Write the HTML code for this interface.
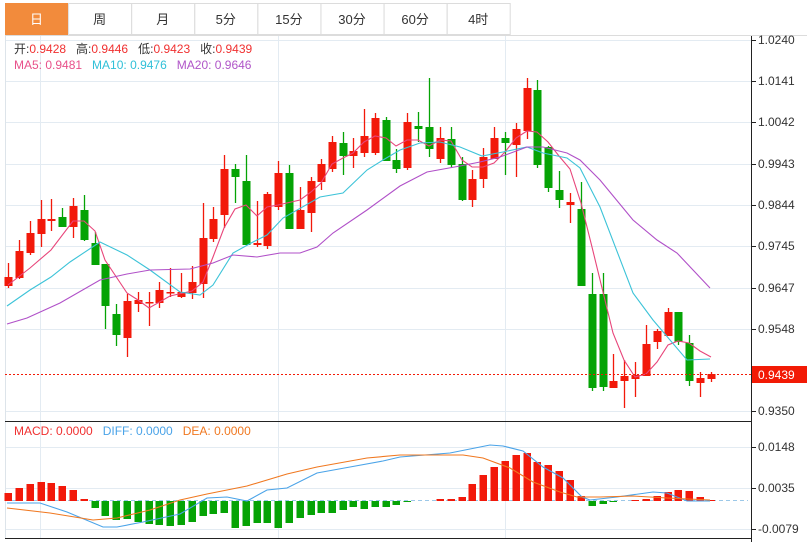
<!DOCTYPE html>
<html><head><meta charset="utf-8"><style>
body{margin:0;background:#fff;width:807px;height:542px;overflow:hidden;font-family:"Liberation Sans","Noto Sans CJK SC",sans-serif}
svg{position:absolute;left:0;top:0}
</style></head><body>
<svg id="s" width="807" height="542" xmlns="http://www.w3.org/2000/svg" font-family="Liberation Sans, Noto Sans CJK SC, sans-serif">
<rect x="0" y="0" width="807" height="542" fill="#fff"/>
<g id="grid" stroke="#e3ebf2" stroke-width="1"></g>
<g id="tabs"></g>
<line x1="5.5" y1="36" x2="5.5" y2="538" stroke="#dde4ea"/>
<line x1="751.5" y1="36" x2="751.5" y2="542" stroke="#222"/>
<line x1="5" y1="421.5" x2="751" y2="421.5" stroke="#222"/>
<line x1="5" y1="538.5" x2="751" y2="538.5" stroke="#222"/>
<g id="c"></g>
<g id="m"></g>
<g id="ax" font-size="12" fill="#333"></g>
<text y="53" font-size="12"><tspan x="14" fill="#333">开:</tspan><tspan fill="#f03030">0.9428</tspan><tspan fill="#333" dx="10">高:</tspan><tspan fill="#f03030">0.9446</tspan><tspan fill="#333" dx="10">低:</tspan><tspan fill="#f03030">0.9423</tspan><tspan fill="#333" dx="10">收:</tspan><tspan fill="#f03030">0.9439</tspan></text>
<text y="69" font-size="12"><tspan x="14" fill="#e8508a">MA5: 0.9481</tspan><tspan dx="10" fill="#30c0d8">MA10: 0.9476</tspan><tspan dx="10" fill="#b055c8">MA20: 0.9646</tspan></text>
<text y="435" font-size="12"><tspan x="14" fill="#f03030">MACD: 0.0000</tspan><tspan dx="10" fill="#4aa3e8">DIFF: 0.0000</tspan><tspan dx="10" fill="#f07820">DEA: 0.0000</tspan></text>
</svg>
<script>
var NS="http://www.w3.org/2000/svg";
function el(p,t,a,txt){var e=document.createElementNS(NS,t);for(var k in a)e.setAttribute(k,a[k]);if(txt!=null)e.textContent=txt;document.getElementById(p).appendChild(e);return e;}
// grid
[40,81,122,164,205,246,288,329,411,447,488,529].forEach(function(y){el('grid','line',{x1:5,x2:751,y1:y+.5,y2:y+.5});});
[40,278,505].forEach(function(x){el('grid','line',{x1:x+.5,x2:x+.5,y1:36,y2:538});});
// tabs
var tn=["日","周","月","5分","15分","30分","60分","4时"];
for(var i=0;i<8;i++){var x=5+i*63.1;
 if(i==0)el('tabs','rect',{x:x,y:3,width:63,height:32,fill:"#f28b3c"});
 else el('tabs','rect',{x:x+.5,y:3.5,width:63,height:31,fill:"#fff",stroke:"#dcdcdc"});
 el('tabs','text',{x:x+31.5,y:24,"text-anchor":"middle","font-size":"13",fill:i==0?"#fff":"#333"},tn[i]);}
el('tabs','line',{x1:5,x2:807,y1:35.5,y2:35.5,stroke:"#dcdcdc"});
// axis labels
var L=[["1.0240",40],["1.0141",81],["1.0042",122],["0.9943",164],["0.9844",205],["0.9745",246],["0.9647",288],["0.9548",329],["0.9350",411],["0.0148",447],["0.0035",488],["-0.0079",529]];
L.forEach(function(l){el('ax','line',{x1:751,x2:756,y1:l[1]+.5,y2:l[1]+.5,stroke:"#222"});el('ax','text',{x:758,y:l[1]+4},l[0]);});
// candles [x,top,bot,hi,lo,c]
var C=[[8,277,286,263,288,'r'],[19,251,278,240,279,'r'],[30,233,253,221,255,'r'],[41,219,234,200,247,'r'],[51,219,221,199,231,'r'],[62,217,227,208,227,'g'],[73,206,227,198,238,'r'],[84,210,240,195,241,'g'],[95,243,265,232,265,'g'],[105,264,306,264,329,'g'],[116,314,335,304,346,'g'],[127,301,338,294,357,'r'],[138,300,304,292,312,'r'],[149,302,303,292,326,'r'],[159,290,303,282,308,'r'],[170,292,293,268,297,'r'],[181,292,297,273,298,'r'],[192,282,293,266,299,'r'],[203,238,284,203,298,'r'],[213,219,239,207,242,'r'],[224,169,215,155,228,'r'],[235,169,177,164,203,'g'],[246,181,245,155,245,'g'],[257,243,245,201,247,'r'],[267,194,246,192,249,'r'],[278,173,207,161,210,'r'],[289,173,229,165,229,'g'],[300,210,229,187,229,'r'],[311,181,213,177,232,'r'],[321,164,182,159,190,'r'],[332,142,169,136,172,'r'],[343,143,156,132,175,'g'],[353,151,156,138,168,'r'],[364,136,153,109,157,'r'],[375,118,153,113,155,'r'],[386,120,161,117,161,'g'],[396,160,169,149,173,'g'],[407,122,168,113,170,'r'],[418,126,129,112,142,'g'],[429,127,149,78,157,'g'],[440,138,159,127,163,'r'],[451,139,165,127,167,'g'],[462,164,200,157,201,'g'],[472,179,200,170,207,'r'],[483,157,179,148,188,'r'],[494,138,159,127,159,'r'],[505,138,143,132,175,'g'],[516,129,145,123,177,'r'],[527,88,131,78,139,'r'],[537,90,165,80,168,'g'],[548,147,188,146,192,'g'],[559,190,200,171,208,'g'],[570,202,205,193,223,'r'],[581,209,286,182,286,'g'],[592,294,388,273,391,'g'],[603,294,387,273,391,'g'],[613,381,388,354,388,'r'],[624,376,381,360,408,'r'],[635,375,379,362,397,'r'],[646,344,376,325,376,'r'],[657,331,342,329,349,'r'],[668,312,336,308,336,'r'],[678,312,342,312,345,'g'],[689,343,381,335,386,'g'],[700,378,383,372,397,'r'],[711,374,379,372,382,'r']];
C.forEach(function(c){var col=c[5]=='r'?"#f2190a":"#05a305";
 el('c','line',{x1:c[0]+.5,x2:c[0]+.5,y1:c[3],y2:c[4],stroke:col,"stroke-width":1.3});
 el('c','rect',{x:c[0]-3.5,y:c[1],width:8,height:Math.max(1.5,c[2]-c[1]),fill:col});});
function pl(g,pts,col,w){el(g,'polyline',{points:pts,fill:"none",stroke:col,"stroke-width":w||1.1});}
pl('c',"8,285 30,268 51,250 73,221 84,221 95,231 105,260 127,293 138,300 149,308 170,296 192,291 203,282 213,257 224,228 235,209 246,205 257,216 267,207 278,205 300,200 311,192 321,183 332,164 343,158 353,153 364,142 375,136 386,138 396,146 407,140 418,140 429,146 440,140 451,141 462,160 472,167 483,167 494,163 505,152 516,138 527,131 537,132 548,142 559,156 570,169 581,203 592,247 603,292 613,333 624,360 635,377 646,374 657,362 668,345 678,341 689,343 700,351 711,357","#e8457a");
pl('c',"7,306 30,290 51,277 70,262 100,242 127,255 150,270 180,292 200,295 213,285 233,253 253,242 267,235 283,218 320,197 343,193 367,170 383,160 400,150 420,143 440,142 460,147 482,156 503,152 527,147 543,153 567,158 580,168 600,207 633,293 653,320 687,360 710,359","#3cc3d8");
pl('c',"7,324 27,318 60,303 100,280 127,274 150,270 190,269 213,263 233,255 257,257 280,253 300,253 317,247 333,233 367,210 400,186 427,172 460,166 480,162 500,157 527,147 543,147 567,153 580,160 600,180 633,220 657,240 677,253 710,288","#b050c8");
// current price
el('c','line',{x1:5,x2:751,y1:374.5,y2:374.5,stroke:"#f21a05","stroke-dasharray":"2,2"});
el('c','rect',{x:752,y:366,width:55,height:17,fill:"#f21a05"});
el('c','text',{x:758,y:379,fill:"#fff","font-size":"12"},"0.9439");
// MACD
el('m','line',{x1:5,x2:748,y1:500.5,y2:500.5,stroke:"#9cc8e8","stroke-dasharray":"4,3"});
var M=[[8,493],[19,488],[30,484],[41,482],[51,483],[62,486],[73,490],[84,499],[95,508],[105,516],[116,520],[127,519],[138,522],[149,524],[159,525],[170,526],[181,525],[192,522],[203,516],[213,514],[224,513],[235,528],[246,526],[257,523],[267,523],[278,528],[289,523],[300,518],[311,515],[321,513],[332,513],[343,510],[353,507],[364,509],[375,507],[386,507],[396,505],[407,502],[418,501],[429,501],[440,499],[451,499],[462,497],[472,484],[483,475],[494,467],[505,461],[516,455],[527,453],[537,462],[548,465],[559,471],[570,480],[581,496],[592,506],[603,504],[613,502],[624,501],[635,500],[646,499],[657,496],[668,492],[678,490],[689,491],[700,497],[711,500]];
M.forEach(function(m){var z=501,up=m[1]<z;var h=Math.abs(m[1]-z);if(h<1)return;
 el('m','rect',{x:m[0]-3.5,y:up?m[1]:z,width:7.5,height:h,fill:up?"#f2190a":"#05a305"});});
pl('m',"7,503 40,503 67,512 103,527 117,527 143,522 180,514 207,498 227,497 247,501 267,490 287,488 317,473 350,467 383,461 400,457 450,453 490,445 503,446 523,451 543,467 563,478 582,497 590,500 617,497 653,492 667,493 687,501 710,501","#4aa3e8");
pl('m',"7,508 50,513 93,520 117,518 150,510 180,500 207,494 247,486 287,474 317,467 367,458 400,455 463,455 483,458 510,468 533,482 560,492 577,497 600,497 633,496 667,498 710,500","#f07820");
</script>
</body></html>
